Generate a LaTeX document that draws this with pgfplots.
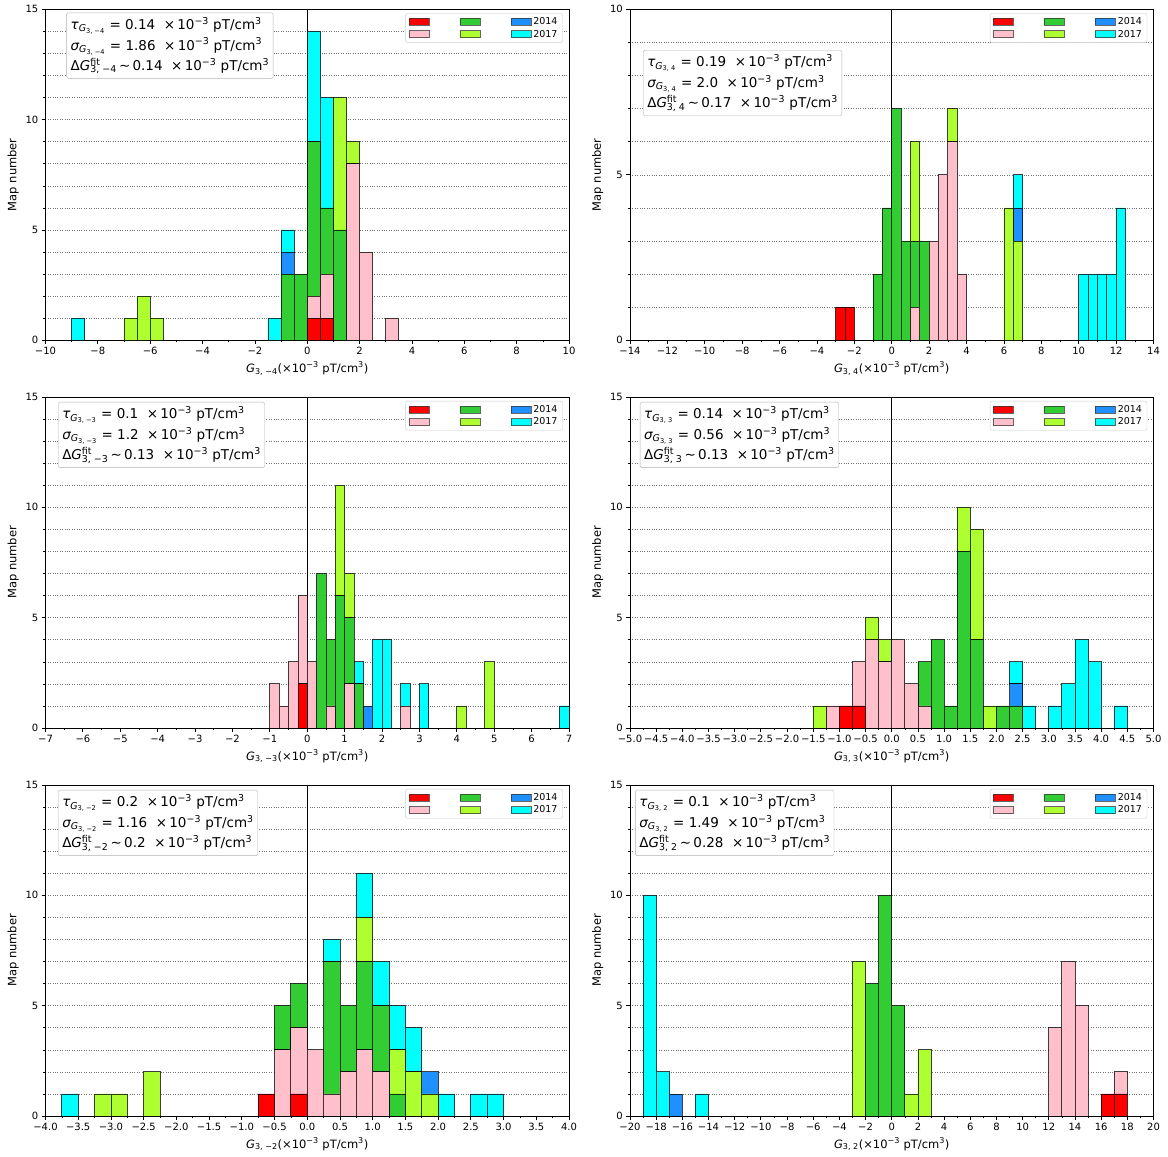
\documentclass[border=0pt]{standalone}
\usepackage{fontspec}
\setmainfont{DejaVu Sans}
\usepackage{pgfplots}
\usepackage{pgfplotstable}
\pgfplotsset{compat=1.18}

\definecolor{cred}{RGB}{255,0,0}
\definecolor{cpink}{RGB}{255,192,203}
\definecolor{cgreen}{RGB}{50,205,50}
\definecolor{clime}{RGB}{173,255,47}
\definecolor{cblue}{RGB}{30,144,255}
\definecolor{ccyan}{RGB}{0,255,255}

% counts per bin: red, pink, green, lime, blue(2014), cyan(2017)
\pgfplotstableread{
x r p g l b c
-8.75 0 0 0 0 0 1
-6.75 0 0 0 1 0 0
-6.25 0 0 0 2 0 0
-5.75 0 0 0 1 0 0
-1.25 0 0 0 0 0 1
-0.75 0 0 3 0 1 1
-0.25 0 0 3 0 0 0
0.25 1 1 7 0 0 5
0.75 1 2 3 0 0 5
1.25 0 0 5 6 0 0
1.75 0 8 0 1 0 0
2.25 0 4 0 0 0 0
3.25 0 1 0 0 0 0
}\tA
\pgfplotstableread{
x r p g l b c
-2.75 1 0 0 0 0 0
-2.25 1 0 0 0 0 0
-0.75 0 0 2 0 0 0
-0.25 0 0 4 0 0 0
0.25 0 0 7 0 0 0
0.75 0 0 3 0 0 0
1.25 0 1 2 3 0 0
1.75 0 0 3 0 0 0
2.25 0 3 0 0 0 0
2.75 0 5 0 0 0 0
3.25 0 6 0 1 0 0
3.75 0 2 0 0 0 0
6.25 0 0 0 4 0 0
6.75 0 0 0 3 1 1
10.25 0 0 0 0 0 2
10.75 0 0 0 0 0 2
11.25 0 0 0 0 0 2
11.75 0 0 0 0 0 2
12.25 0 0 0 0 0 4
}\tB
\pgfplotstableread{
x r p g l b c
-0.875 0 2 0 0 0 0
-0.625 0 1 0 0 0 0
-0.375 0 3 0 0 0 0
-0.125 2 4 0 0 0 0
0.125 0 3 0 0 0 0
0.375 0 0 7 0 0 0
0.625 0 1 3 0 0 0
0.875 0 0 6 5 0 0
1.125 0 2 3 2 0 0
1.375 0 0 2 0 0 1
1.625 0 0 0 0 1 0
1.875 0 0 0 0 0 4
2.125 0 0 0 0 0 4
2.625 0 1 0 0 0 1
3.125 0 0 0 0 0 2
4.125 0 0 0 1 0 0
4.875 0 0 0 3 0 0
6.875 0 0 0 0 0 1
}\tC
\pgfplotstableread{
x r p g l b c
-1.375 0 0 0 1 0 0
-1.125 0 1 0 0 0 0
-0.875 1 0 0 0 0 0
-0.625 1 2 0 0 0 0
-0.375 0 4 0 1 0 0
-0.125 0 3 0 1 0 0
0.125 0 4 0 0 0 0
0.375 0 2 0 0 0 0
0.625 0 1 2 0 0 0
0.875 0 0 4 0 0 0
1.125 0 0 1 0 0 0
1.375 0 0 8 2 0 0
1.625 0 0 4 5 0 0
1.875 0 0 0 1 0 0
2.125 0 0 1 0 0 0
2.375 0 0 1 0 1 1
2.625 0 0 0 0 0 1
3.125 0 0 0 0 0 1
3.375 0 0 0 0 0 2
3.625 0 0 0 0 0 4
3.875 0 0 0 0 0 3
4.375 0 0 0 0 0 1
}\tD
\pgfplotstableread{
x r p g l b c
-3.625 0 0 0 0 0 1
-3.125 0 0 0 1 0 0
-2.875 0 0 0 1 0 0
-2.375 0 0 0 2 0 0
-0.625 1 0 0 0 0 0
-0.375 0 3 2 0 0 0
-0.125 1 3 2 0 0 0
0.125 0 3 0 0 0 0
0.375 0 1 6 0 0 1
0.625 0 2 3 0 0 0
0.875 0 3 4 2 0 2
1.125 0 2 3 0 0 2
1.375 0 0 1 2 0 2
1.625 0 0 0 2 0 2
1.875 0 0 0 1 1 0
2.125 0 0 0 0 0 1
2.625 0 0 0 0 0 1
2.875 0 0 0 0 0 1
}\tE
\pgfplotstableread{
x r p g l b c
-18.5 0 0 0 0 0 10
-17.5 0 0 0 0 0 2
-16.5 0 0 0 0 1 0
-14.5 0 0 0 0 0 1
-2.5 0 0 0 7 0 0
-1.5 0 0 6 0 0 0
-0.5 0 0 10 0 0 0
0.5 0 0 5 0 0 0
1.5 0 0 0 1 0 0
2.5 0 0 0 3 0 0
12.5 0 4 0 0 0 0
13.5 0 7 0 0 0 0
14.5 0 5 0 0 0 0
16.5 1 0 0 0 0 0
17.5 1 1 0 0 0 0
}\tF

\pgfplotsset{
  panel/.style={
    scale only axis, width=523.5pt, height=331pt, anchor=south west,
    ybar stacked, bar width=#1,
    ymin=0,
    axis line style={line width=0.8pt},
    tick align=outside, tick pos=left,
    major tick length=3.7pt, minor tick length=2pt,
    tick style={black, line width=0.8pt},
    minor tick style={line width=0.6pt},
    ymajorgrids, yminorgrids, minor y tick num=4,
    major grid style={dotted, black!55, line width=0.6pt},
    minor grid style={dotted, black!55, line width=0.6pt},
    ticklabel style={font=\fontsize{10}{11}\selectfont},
    yticklabel style={/pgf/number format/assume math mode=true},
    label style={font=\fontsize{11.5}{13}\selectfont},
    ylabel={Map number},
    legend columns=3, legend cell align=left,
    legend style={at={(0.988,0.988)}, anchor=north east, draw=black!20,
      rounded corners=2pt, fill=white, font=\fontsize{9.5}{11}\selectfont,
      /tikz/every even column/.append style={column sep=2pt}},
    every axis plot/.append style={draw=black, draw opacity=0.75, line width=0.8pt},
  },
  sw/.style={legend image code/.code={\draw[sharp corners,fill=#1,draw=black!80,line width=0.8pt] (0pt,-3.5pt) rectangle (20pt,3.5pt);}},
}

\newcommand\bars[1]{%
  \addplot[forget plot, fill=cred] table[x=x,y=r]{#1};
  \addplot[forget plot, fill=cpink] table[x=x,y=p]{#1};
  \addplot[forget plot, fill=cgreen] table[x=x,y=g]{#1};
  \addplot[forget plot, fill=clime] table[x=x,y=l]{#1};
  \addplot[forget plot, fill=cblue] table[x=x,y=b]{#1};
  \addplot[forget plot, fill=ccyan] table[x=x,y=c]{#1};
  \draw[black, line width=0.7pt] ({axis cs:0,0}|-{rel axis cs:0,0}) -- ({axis cs:0,0}|-{rel axis cs:0,1});
  \addlegendimage{sw=cred}\addlegendentry{\phantom{2014}}
  \addlegendimage{sw=cgreen}\addlegendentry{\phantom{2014}}
  \addlegendimage{sw=cblue}\addlegendentry{2014}
  \addlegendimage{sw=cpink}\addlegendentry{\phantom{2014}}
  \addlegendimage{sw=clime}\addlegendentry{\phantom{2014}}
  \addlegendimage{sw=ccyan}\addlegendentry{2017}
}
\newcommand\un{\ \ ×\,10\textsuperscript{−3} pT/cm\textsuperscript{3}}
\newcommand\statbox[6]{%
  \node[draw=black!30, fill=white, rounded corners=1.5pt, anchor=north west, align=left,
    inner xsep=4pt, inner ysep=4.5pt, font=\fontsize{13.5}{20.5}\selectfont]
    at (rel axis cs:#1,#2) {%
    {\itshape τ}\textsubscript{{\itshape G}\textsubscript{3, #3}} = #4\un\\
    {\itshape σ}\textsubscript{{\itshape G}\textsubscript{3, #3}} = #5\un\\
    Δ{\itshape G}\rlap{\textsuperscript{fit}}\textsubscript{3, #3}\,∼\,#6\un};}
\newcommand\xl[1]{{\itshape G}\textsubscript{3, #1}(×10\textsuperscript{−3} pT/cm\textsuperscript{3})}

\begin{document}
\begin{tikzpicture}
\useasboundingbox (0pt,0pt) rectangle (1168pt,-1157pt);

\begin{axis}[panel=0.5, at={(45.5pt,-340.3pt)},
  xmin=-10, xmax=10, ymax=15, ytick={0,5,10,15},
  xtick={-10,-8,-6,-4,-2,0,2,4,6,8,10},
  xticklabels={−10,−8,−6,−4,−2,0,2,4,6,8,10}, minor x tick num=1,
  xlabel={\xl{−4}}]
\bars{\tA}
\statbox{0.04}{0.99}{−4}{0.14}{1.86}{0.14}
\end{axis}

\begin{axis}[panel=0.5, at={(630pt,-340.3pt)},
  xmin=-14, xmax=14, ymax=10, ytick={0,5,10},
  xtick={-14,-12,-10,-8,-6,-4,-2,0,2,4,6,8,10,12,14},
  xticklabels={−14,−12,−10,−8,−6,−4,−2,0,2,4,6,8,10,12,14}, minor x tick num=1,
  xlabel={\xl{4}}]
\bars{\tB}
\statbox{0.025}{0.877}{4}{0.19}{2.0}{0.17}
\end{axis}

\begin{axis}[panel=0.25, at={(45.5pt,-728pt)},
  xmin=-7, xmax=7, ymax=15, ytick={0,5,10,15},
  xtick={-7,-6,-5,-4,-3,-2,-1,0,1,2,3,4,5,6,7},
  xticklabels={−7,−6,−5,−4,−3,−2,−1,0,1,2,3,4,5,6,7}, minor x tick num=1,
  xlabel={\xl{−3}}]
\bars{\tC}
\statbox{0.024}{0.985}{−3}{0.1}{1.2}{0.13}
\end{axis}

\begin{axis}[panel=0.25, at={(630pt,-728pt)},
  xmin=-5, xmax=5, ymax=15, ytick={0,5,10,15},
  xtick={-5,-4.5,-4,-3.5,-3,-2.5,-2,-1.5,-1,-0.5,0,0.5,1,1.5,2,2.5,3,3.5,4,4.5,5},
  xticklabels={−5.0,−4.5,−4.0,−3.5,−3.0,−2.5,−2.0,−1.5,−1.0,−0.5,0.0,0.5,1.0,1.5,2.0,2.5,3.0,3.5,4.0,4.5,5.0},
  minor x tick num=1,
  xlabel={\xl{3}}]
\bars{\tD}
\statbox{0.019}{0.985}{3}{0.14}{0.56}{0.13}
\end{axis}

\begin{axis}[panel=0.25, at={(45.5pt,-1116pt)},
  xmin=-4, xmax=4, ymax=15, ytick={0,5,10,15},
  xtick={-4,-3.5,-3,-2.5,-2,-1.5,-1,-0.5,0,0.5,1,1.5,2,2.5,3,3.5,4},
  xticklabels={−4.0,−3.5,−3.0,−2.5,−2.0,−1.5,−1.0,−0.5,0.0,0.5,1.0,1.5,2.0,2.5,3.0,3.5,4.0},
  minor x tick num=1,
  xlabel={\xl{−2}}]
\bars{\tE}
\statbox{0.024}{0.985}{−2}{0.2}{1.16}{0.2}
\end{axis}

\begin{axis}[panel=1, at={(630pt,-1116pt)},
  xmin=-20, xmax=20, ymax=15, ytick={0,5,10,15},
  xtick={-20,-18,-16,-14,-12,-10,-8,-6,-4,-2,0,2,4,6,8,10,12,14,16,18,20},
  xticklabels={−20,−18,−16,−14,−12,−10,−8,−6,−4,−2,0,2,4,6,8,10,12,14,16,18,20},
  minor x tick num=1,
  xlabel={\xl{2}}]
\bars{\tF}
\statbox{0.01}{0.985}{2}{0.1}{1.49}{0.28}
\end{axis}
\end{tikzpicture}
\end{document}
